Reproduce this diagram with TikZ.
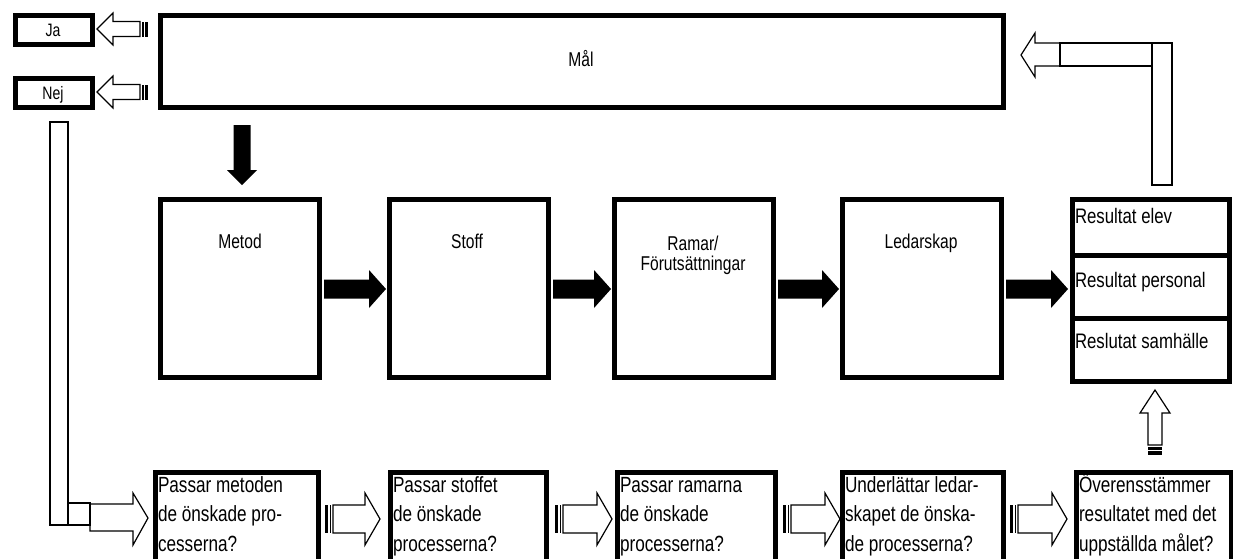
\documentclass[tikz,border=0pt]{standalone}
\usepackage{fontspec}
\setmainfont{Liberation Sans}
\newfontfamily\cf[FakeStretch=0.78]{Liberation Sans}
\newfontfamily\cfr[FakeStretch=0.8]{Liberation Sans}
% black filled right arrow: x tail, x tip, y centre
\newcommand\blkarrowR[3]{\fill (#1,#3-9.5) -- (#2-17,#3-9.5) -- (#2-17,#3-19) -- (#2,#3) -- (#2-17,#3+19) -- (#2-17,#3+9.5) -- (#1,#3+9.5) -- cycle;}
% open right arrow with striped tail: x tail, x tip, y centre
\newcommand\openarrowR[3]{%
  \fill (#1,#3-14) rectangle (#1+3,#3+14);
  \fill (#1+4.5,#3-14) rectangle (#1+6,#3+14);
  \draw[thinline] (#1+8,#3-14) -- (#2-15,#3-14) -- (#2-15,#3-26) -- (#2,#3) -- (#2-15,#3+26) -- (#2-15,#3+14) -- (#1+8,#3+14) -- cycle;}
% open left arrow with striped tail: x tail, x tip, y centre
\newcommand\openarrowL[3]{%
  \fill (#1,#3-7.5) rectangle (#1-3,#3+7.5);
  \fill (#1-4.5,#3-7.5) rectangle (#1-6,#3+7.5);
  \draw[thinline] (#1-8,#3-7.5) -- (#2+16,#3-7.5) -- (#2+16,#3-16) -- (#2,#3) -- (#2+16,#3+16) -- (#2+16,#3+7.5) -- (#1-8,#3+7.5) -- cycle;}
\begin{document}
\begin{tikzpicture}[x=1pt,y=-1pt,
  thickbox/.style={draw,line width=5pt},
  thinline/.style={line width=1.2pt,line join=miter},
  lab/.style={inner sep=0pt,outer sep=0pt},
  topfont/.style={font=\cf\fontsize{20}{20}\selectfont},
  resfont/.style={font=\cfr\fontsize{21}{24}\selectfont},
  botfont/.style={font=\cf\fontsize{22}{29.5}\selectfont},
]
\useasboundingbox (0,0) rectangle (1233,558);
\clip (0,0) rectangle (1233,558);

% --- top: Mål, Ja, Nej
\draw[thickbox] (160,15) rectangle (1003,107);
\node[lab,topfont,anchor=base] (mal) at (581,66) {Mål};
\draw[thickbox] (15,15) rectangle (92,44);
\node[lab,font=\cf\fontsize{18}{18}\selectfont,anchor=base] (ja) at (53,36) {Ja};
\draw[thickbox] (15,78) rectangle (92,107);
\node[lab,font=\cf\fontsize{18}{18}\selectfont,anchor=base] (nej) at (53,99) {Nej};
\openarrowL{148}{97}{29}
\openarrowL{148}{97}{92}

% --- black arrow down from Mål to Metod
\fill (233.5,125) -- (250.5,125) -- (250.5,170) -- (257,170) -- (242,185) -- (227,170) -- (233.5,170) -- cycle;

% --- middle row
\draw[thickbox] (160,199) rectangle (319,377);
\node[lab,topfont,anchor=base] (metod) at (240,248) {Metod};
\draw[thickbox] (389,199) rectangle (548,377);
\node[lab,topfont,anchor=base] (stoff) at (467,248) {Stoff};
\draw[thickbox] (614,199) rectangle (773,377);
\node[lab,topfont,anchor=north,align=center] (ramar) at (693,235) {\rule{0pt}{15pt}Ramar/\\Förutsättningar};
\draw[thickbox] (842,199) rectangle (1001,377);
\node[lab,topfont,anchor=base] (ledarskap) at (921,248) {Ledarskap};
\draw[thickbox] (1072,199) rectangle (1229,381);
\draw[line width=5pt] (1072,255) -- (1229,255);
\draw[line width=5pt] (1072,318) -- (1229,318);
\node[lab,resfont,anchor=base west] (r1) at (1075,223) {Resultat elev};
\node[lab,resfont,anchor=base west] (r2) at (1075,287) {Resultat personal};
\node[lab,resfont,anchor=base west] (r3) at (1075,348) {Reslutat samhälle};

\blkarrowR{324}{386}{289}
\blkarrowR{553}{611}{289}
\blkarrowR{778}{839}{289}
\blkarrowR{1006}{1068}{289}

% --- right L-shaped open arrow back to Mål
\draw[thinline] (1152,43) rectangle (1172,185);
\draw[thinline] (1060,43) rectangle (1152,66);
\draw[thinline] (1060,43) -- (1035,43) -- (1035,33) -- (1021,55) -- (1035,77) -- (1035,66) -- (1060,66);

% --- up arrow into results
\draw[thinline] (1148,445) -- (1148,413) -- (1140,413) -- (1155,390) -- (1170,413) -- (1162,413) -- (1162,445) -- cycle;
\fill (1148,447) rectangle (1162,449.5);
\fill (1148,451) rectangle (1162,455);

% --- left L-shaped open arrow
\draw[thinline] (50,122) rectangle (68,525);
\draw[thinline] (68,503) rectangle (90,525);
\draw[thinline] (90,504) -- (133,504) -- (133,493) -- (148,518) -- (133,545) -- (133,531) -- (90,531) -- cycle;

% --- bottom row
\draw[thickbox] (155,472) rectangle (318,580);
\node[lab,botfont,anchor=north west,align=left] (q1) at (158,472) {\rule{0pt}{20pt}Passar metoden\\de önskade pro-\\cesserna?};
\draw[thickbox] (390,472) rectangle (546,580);
\node[lab,botfont,anchor=north west,align=left] (q2) at (393,472) {\rule{0pt}{20pt}Passar stoffet\\de önskade\\processerna?};
\draw[thickbox] (617,472) rectangle (775,580);
\node[lab,botfont,anchor=north west,align=left] (q3) at (620,472) {\rule{0pt}{20pt}Passar ramarna\\de önskade\\processerna?};
\draw[thickbox] (842,472) rectangle (1003,580);
\node[lab,botfont,anchor=north west,align=left] (q4) at (845,472) {\rule{0pt}{20pt}Underlättar ledar-\\skapet de önska-\\de processerna?};
\draw[thickbox] (1076,472) rectangle (1231,580);
\node[lab,botfont,anchor=north west,align=left] (q5) at (1079,472) {\rule{0pt}{20pt}Överensstämmer\\resultatet med det\\uppställda målet?};

\openarrowR{325}{380}{519}
\openarrowR{555}{612}{519}
\openarrowR{783}{840}{519}
\openarrowR{1010}{1067}{519}
\end{tikzpicture}
\end{document}
